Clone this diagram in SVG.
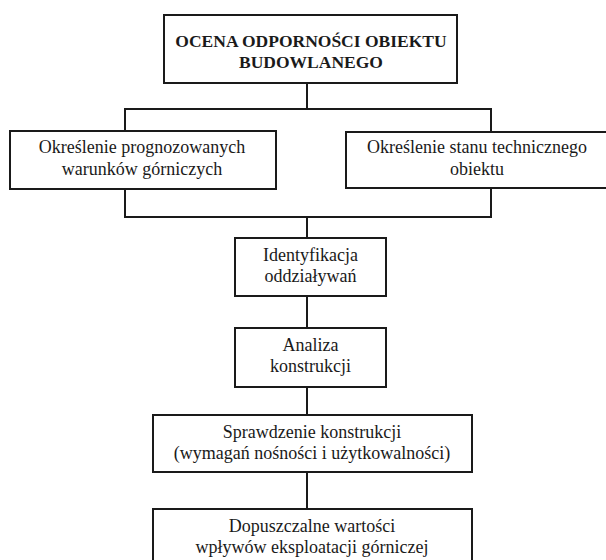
<svg xmlns="http://www.w3.org/2000/svg" width="606" height="560" viewBox="0 0 606 560">
<style>
.box{fill:#fff;stroke:#1a1a1a;stroke-width:2}
.ln{fill:none;stroke:#1a1a1a;stroke-width:2}
text{font-family:"Liberation Serif","Times New Roman",serif;font-size:18px;fill:#1a1a1a;text-anchor:middle}
.b{font-weight:bold;font-size:17.5px}
</style>
<rect width="606" height="560" fill="#fff"/>
<g id="connectors">
<polyline class="ln" points="307,83 307,109"/>
<polyline class="ln" points="125,131 125,109 491,109 491,132"/>
<polyline class="ln" points="125,189 125,217 491,217 491,188"/>
<polyline class="ln" points="307,217 307,238"/>
<polyline class="ln" points="307,296 307,328"/>
<polyline class="ln" points="307,387 307,415"/>
<polyline class="ln" points="307,472 307,509"/>
</g>
<g id="n1">
<rect class="box" x="164" y="15" width="293" height="68"/>
<text class="b" x="311" y="47">OCENA ODPORNOŚCI OBIEKTU</text>
<text class="b" x="311" y="68">BUDOWLANEGO</text>
</g>
<g id="n2">
<rect class="box" x="10" y="131" width="266" height="58"/>
<text x="142" y="153">Określenie prognozowanych</text>
<text x="142" y="175">warunków górniczych</text>
</g>
<g id="n3">
<rect class="box" x="346" y="132" width="270" height="56"/>
<text x="477" y="153">Określenie stanu technicznego</text>
<text x="477" y="175">obiektu</text>
</g>
<g id="n4">
<rect class="box" x="235" y="238" width="151" height="58"/>
<text x="310.5" y="260.5">Identyfikacja</text>
<text x="310.5" y="282">oddziaływań</text>
</g>
<g id="n5">
<rect class="box" x="235" y="328" width="151" height="59"/>
<text x="310.5" y="351">Analiza</text>
<text x="310.5" y="372">konstrukcji</text>
</g>
<g id="n6">
<rect class="box" x="153" y="415" width="319" height="57"/>
<text x="312" y="438">Sprawdzenie konstrukcji</text>
<text x="312" y="459">(wymagań nośności i użytkowalności)</text>
</g>
<g id="n7">
<rect class="box" x="153" y="509" width="319" height="70"/>
<text x="312" y="532">Dopuszczalne wartości</text>
<text x="312" y="553">wpływów eksploatacji górniczej</text>
</g>
</svg>
